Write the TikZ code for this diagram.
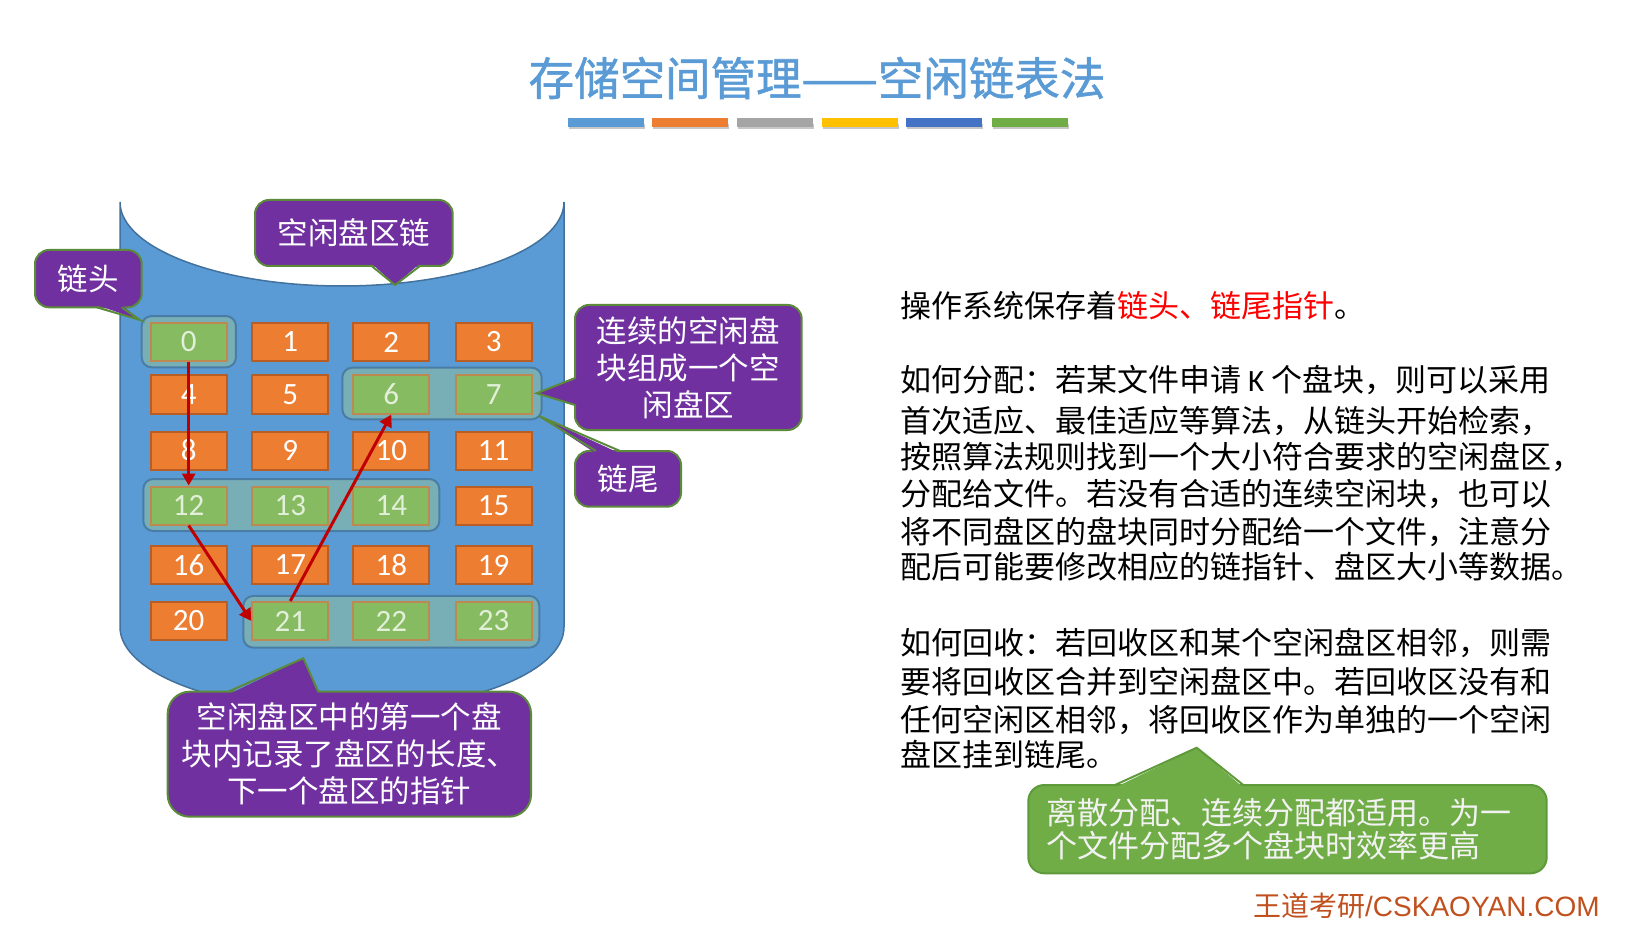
\documentclass[tikz,border=0pt]{standalone}
\usepackage{fontspec}
\setmainfont{Liberation Sans}
\newfontfamily\cjk{Noto Sans CJK SC}
\newfontfamily\cjktitle[FakeBold=1.2]{Noto Sans CJK SC}
\newfontfamily\numf{Carlito}
\usetikzlibrary{arrows.meta}
\definecolor{cylblue}{HTML}{5B9BD5}
\definecolor{cylborder}{HTML}{41719C}
\definecolor{orange1}{HTML}{ED7D31}
\definecolor{oborder}{HTML}{B85E24}
\definecolor{green1}{HTML}{87BB62}
\definecolor{gborder}{HTML}{BC8A50}
\definecolor{paleg}{HTML}{E2EFD9}
\definecolor{grpfill}{HTML}{78AEB6}
\definecolor{grpborder}{HTML}{4A7DA6}
\definecolor{purple1}{HTML}{7030A0}
\definecolor{pborder}{HTML}{5A8A3A}
\definecolor{gcall}{HTML}{70AD47}
\definecolor{gcallborder}{HTML}{5E9A3A}
\definecolor{arrred}{HTML}{C00000}
\definecolor{titleblue}{HTML}{5B9BD5}
\definecolor{wdred}{HTML}{C0501E}
\definecolor{barA}{HTML}{5B9BD5}
\definecolor{barB}{HTML}{ED7D31}
\definecolor{barC}{HTML}{A5A5A5}
\definecolor{barD}{HTML}{FFC000}
\definecolor{barE}{HTML}{4472C4}
\definecolor{barF}{HTML}{70AD47}
\begin{document}
\begin{tikzpicture}[x=1pt,y=-1pt,
  blk/.style={line width=2pt, minimum width=76pt, minimum height=38pt, inner sep=0pt,
    font=\numf\fontsize{31}{31}\selectfont},
  oblk/.style={blk, fill=orange1, draw=oborder, text=white},
  gblk/.style={blk, fill=green1, draw=gborder, text=paleg},
  grp/.style={draw=grpborder, fill=grpfill, line width=2pt, rounded corners=10pt, inner sep=0pt},
  pbox/.style={draw=pborder, fill=purple1, line width=2pt, rounded corners=14pt, text=white,
    font=\cjk\fontsize{30.5}{37}\selectfont, align=center, inner sep=0pt},
  gbox/.style={draw=gcallborder, fill=gcall, line width=2pt, rounded corners=16pt, text=white!95!black,
    font=\cjk\fontsize{31}{32.5}\selectfont, align=left, inner ysep=0pt, inner xsep=18pt},
  body/.style={anchor=west, inner sep=0pt, font=\cjk\fontsize{31}{31}\selectfont},
  arr/.style={draw=arrred, line width=3pt, -{Triangle[length=12pt,width=13pt]}},
  bar/.style={minimum width=76pt, minimum height=8.5pt, inner sep=0pt}
]
\useasboundingbox (0,0) rectangle (1650,925);

% title
\node[font=\cjktitle\fontsize{45.5}{45.5}\selectfont, text=titleblue, inner sep=0pt] (title) at (817,78) {存储空间管理——空闲链表法};
\foreach \i/\x/\c in {1/606/barA,2/690/barB,3/774.6/barC,4/860/barD,5/944/barE,6/1030/barF}{
  \fill[black!22] (\x-37,124.5) rectangle (\x+39,129.5);
  \node[bar, fill=\c] (bar\i) at (\x,122.75) {};
}

% cylinder
\draw[fill=cylblue, draw=cylborder, line width=1.5pt]
  (120,202) -- (120,627) arc[start angle=180, end angle=0, x radius=222, y radius=84]
  -- (564,202) arc[start angle=0, end angle=180, x radius=222, y radius=84] -- cycle;

% groups (free areas)
\node[grp, minimum width=94.3pt, minimum height=51.3pt] (g0) at (188.8,341.7) {};
\node[grp, minimum width=199.4pt, minimum height=51.6pt] (g67) at (442,393.5) {};
\node[grp, minimum width=296pt, minimum height=52pt] (g1214) at (291.3,505) {};
\node[grp, minimum width=296pt, minimum height=51.7pt] (g2123) at (391.3,621.8) {};

% blocks
\foreach \n/\x/\y/\s in {
  0/188.7/342/gblk, 1/290.3/342/oblk, 2/391.3/342/oblk, 3/493.7/342/oblk,
  4/188.7/394.5/oblk, 5/290.3/394.5/oblk, 6/391.3/394.5/gblk, 7/493.7/394.5/gblk,
  8/188.7/450.5/oblk, 9/290.3/450.5/oblk, 10/391.3/450.5/oblk, 11/493.7/450.5/oblk,
  12/188.7/505.5/gblk, 13/290.3/505.5/gblk, 14/391.3/505.5/gblk, 15/493.7/505.5/oblk,
  16/188.7/565/oblk, 17/290.3/565/oblk, 18/391.3/565/oblk, 19/493.7/565/oblk,
  20/188.7/621/oblk, 21/290.3/621/gblk, 22/391.3/621/gblk, 23/493.7/621/gblk}{
  \node[\s] (b\n) at (\x,\y) {\n};
}

% chain arrows
\draw[arr] (b0.south) -- (b12.north);
\draw[arr] (b12.south) -- (b21.west);
\draw[arr] (b21.north) -- (b6.south);

% callout: chain head
\node[pbox, minimum width=106.7pt, minimum height=57.3pt] (hd) at (88.35,278.65) {链头};
\coordinate (hdtip) at (140,320);
\fill[purple1] (96.7,305) -- (hdtip) -- (121.7,305) -- cycle;
\draw[pborder, line width=2pt] (96.7,307.3) -- (hdtip) -- (121.7,307.3);

% callout: free chain
\node[pbox, minimum width=197.7pt, minimum height=66pt] (ch) at (353.85,233) {空闲盘区链};
\coordinate (chtip) at (395,285);
\fill[purple1] (371.7,263.5) -- (chtip) -- (420,263.5) -- cycle;
\draw[pborder, line width=2pt] (371.7,266) -- (chtip) -- (420,266);

% callout: contiguous blocks
\node[pbox, minimum width=226.7pt, minimum height=125pt] (ct) at (688.35,367.5) {连续的空闲盘\\块组成一个空\\闲盘区};
\coordinate (cttip) at (536.7,393.3);
\fill[purple1] (577.5,378) -- (cttip) -- (577.5,405) -- cycle;
\draw[pborder, line width=2pt] (575,378) -- (cttip) -- (575,405);

% callout: chain tail
\node[pbox, minimum width=106pt, minimum height=55.7pt] (tl) at (628,478.85) {链尾};
\coordinate (tltip) at (539,416);
\fill[purple1] (596,453.5) -- (tltip) -- (620,453.5) -- cycle;
\draw[pborder, line width=2pt] (596,451) -- (tltip) -- (620,451);

% callout: first block note
\node[pbox, rounded corners=22pt, minimum width=363.3pt, minimum height=125pt] (fb) at (349.35,754.2)
  {空闲盘区中的第一个盘\\块内记录了盘区的长度、\\下一个盘区的指针};
\coordinate (fbtip) at (303.3,658.3);
\fill[purple1] (228.3,694.5) -- (fbtip) -- (318.3,694.5) -- cycle;
\draw[pborder, line width=2pt] (228.3,691.7) -- (fbtip) -- (318.3,691.7);

% right-hand text
\node[body] (p1) at (900,306) {操作系统保存着\textcolor{red}{链头、链尾指针}。};
\node[body] (p2a) at (900,380) {如何分配：若某文件申请 {\numf K} 个盘块，则可以采用};
\node[body] (p2b) at (900,421.5) {首次适应、最佳适应等算法，从链头开始检索，};
\node[body] (p2c) at (900,456.5) {按照算法规则找到一个大小符合要求的空闲盘区，};
\node[body] (p2d) at (900,494) {分配给文件。若没有合适的连续空闲块，也可以};
\node[body] (p2e) at (900,531.5) {将不同盘区的盘块同时分配给一个文件，注意分};
\node[body] (p2f) at (900,566.5) {配后可能要修改相应的链指针、盘区大小等数据。};
\node[body] (p3a) at (900,643) {如何回收：若回收区和某个空闲盘区相邻，则需};
\node[body] (p3b) at (900,681.5) {要将回收区合并到空闲盘区中。若回收区没有和};
\node[body] (p3c) at (900,720) {任何空闲区相邻，将回收区作为单独的一个空闲};
\node[body] (p3d) at (900,755) {盘区挂到链尾。};

% green callout
\node[gbox, text width=482.4pt, minimum height=88.3pt] (gr) at (1287.5,829.15)
  {离散分配、连续分配都适用。为一\\个文件分配多个盘块时效率更高};
\coordinate (grtip) at (1196.7,747.7);
\fill[gcall] (1115,787.5) -- (grtip) -- (1243.3,787.5) -- cycle;
\draw[gcallborder, line width=2pt] (1115,785) -- (grtip) -- (1243.3,785);

% footer
\node[anchor=west, inner sep=0pt, text=wdred, font=\fontsize{28}{28}\selectfont] (wd) at (1253,906)
  {{\cjk 王道考研}/CSKAOYAN.COM};
\end{tikzpicture}
\end{document}
